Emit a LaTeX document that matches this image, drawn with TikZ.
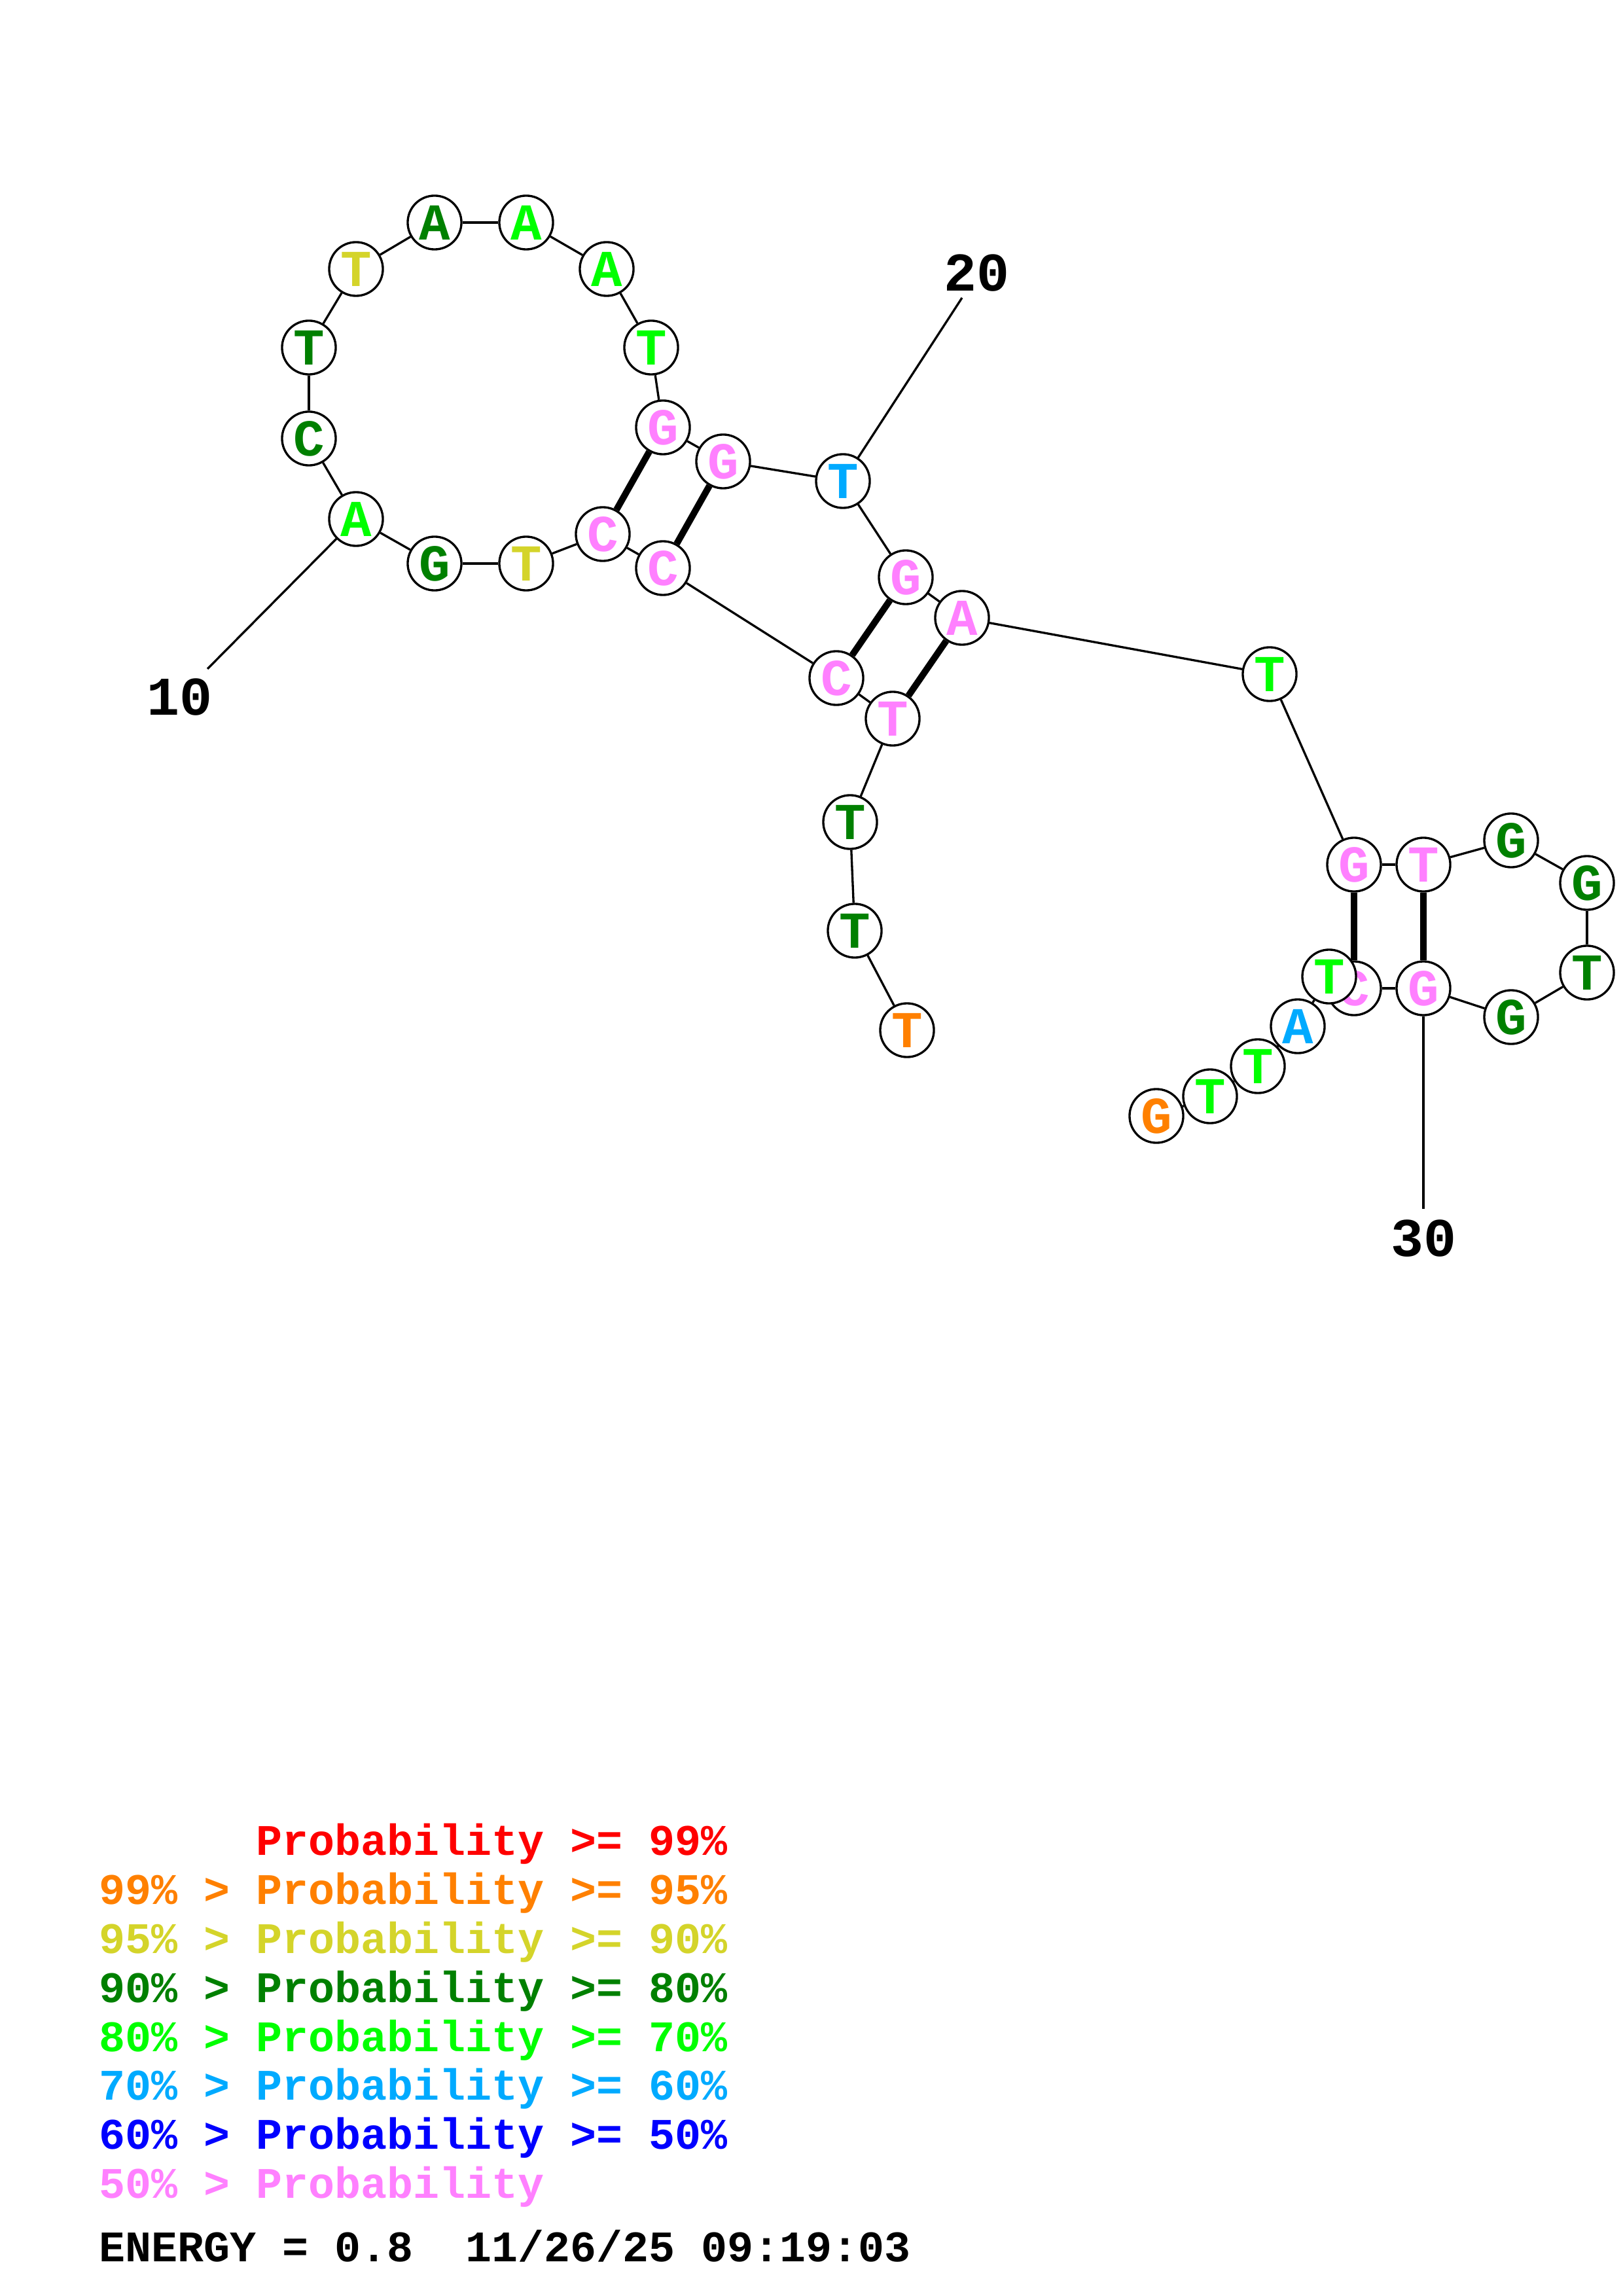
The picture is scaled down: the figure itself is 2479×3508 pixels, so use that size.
\documentclass[tikz,border=0pt]{standalone}
\usepackage{fontspec}
\newfontfamily\cour{Liberation Mono}
\pgfdeclarelayer{background}
\pgfsetlayers{background,main}
\definecolor{pRed}{RGB}{255,0,0}
\definecolor{pOrange}{RGB}{255,128,0}
\definecolor{pYellow}{RGB}{212,212,42}
\definecolor{pDkGreen}{RGB}{0,128,0}
\definecolor{pGreen}{RGB}{0,255,0}
\definecolor{pSky}{RGB}{0,170,255}
\definecolor{pBlue}{RGB}{0,0,255}
\definecolor{pPink}{RGB}{255,128,255}
\begin{document}
\begin{tikzpicture}[x=0.24pt,y=-0.24pt,
  nt/.style={circle,draw=black,fill=white,line width=0.8pt,minimum size=19.7pt,inner sep=0pt,
    font=\cour\bfseries\fontsize{19}{19}\selectfont},
  bb/.style={line width=0.8pt},
  pairline/.style={line width=2.4pt},
  lbl/.style={inner sep=0pt,font=\cour\bfseries\fontsize{20}{20}\selectfont},
  leg/.style={anchor=base west,inner sep=0pt,font=\cour\bfseries\fontsize{16}{16}\selectfont}]
\useasboundingbox (0,0) rectangle (2479,3508);
% nucleotides
\node[nt,text=pOrange]  (n1)  at (1386,1574) {T};
\node[nt,text=pDkGreen] (n2)  at (1306,1422) {T};
\node[nt,text=pDkGreen] (n3)  at (1299,1256) {T};
\node[nt,text=pPink]    (n4)  at (1364,1098) {T};
\node[nt,text=pPink]    (n5)  at (1278,1036) {C};
\node[nt,text=pPink]    (n6)  at (1013,868) {C};
\node[nt,text=pPink]    (n7)  at (921,816) {C};
\node[nt,text=pYellow]  (n8)  at (804,861) {T};
\node[nt,text=pDkGreen] (n9)  at (664,861) {G};
\node[nt,text=pGreen]   (n10) at (544,793) {A};
\node[nt,text=pDkGreen] (n11) at (472,670) {C};
\node[nt,text=pDkGreen] (n12) at (472,531) {T};
\node[nt,text=pYellow]  (n13) at (544,411) {T};
\node[nt,text=pDkGreen] (n14) at (664,340) {A};
\node[nt,text=pGreen]   (n15) at (804,340) {A};
\node[nt,text=pGreen]   (n16) at (927,411) {A};
\node[nt,text=pGreen]   (n17) at (995,531) {T};
\node[nt,text=pPink]    (n18) at (1013,653) {G};
\node[nt,text=pPink]    (n19) at (1105,705) {G};
\node[nt,text=pSky]     (n20) at (1288,735) {T};
\node[nt,text=pPink]    (n21) at (1384,882) {G};
\node[nt,text=pPink]    (n22) at (1470,944) {A};
\node[nt,text=pGreen]   (n23) at (1940,1030) {T};
\node[nt,text=pPink]    (n24) at (2069,1321) {G};
\node[nt,text=pPink]    (n25) at (2175,1321) {T};
\node[nt,text=pDkGreen] (n26) at (2309,1284) {G};
\node[nt,text=pDkGreen] (n27) at (2425,1349) {G};
\node[nt,text=pDkGreen] (n28) at (2425,1486) {T};
\node[nt,text=pDkGreen] (n29) at (2309,1554) {G};
\node[nt,text=pPink]    (n30) at (2175,1510) {G};
\node[nt,text=pPink]    (n31) at (2069,1510) {C};
\node[nt,text=pGreen]   (n32) at (2031,1492) {T};
\node[nt,text=pSky]     (n33) at (1983,1568) {A};
\node[nt,text=pGreen]   (n34) at (1922,1629) {T};
\node[nt,text=pGreen]   (n35) at (1849,1675) {T};
\node[nt,text=pOrange]  (n36) at (1767,1705) {G};
% position labels
\node[lbl] (l10) at (275,1065) {10};
\node[lbl] (l20) at (1492,417) {20};
\node[lbl] (l30) at (2175,1892) {30};
\coordinate (e10) at (317,1022);
\coordinate (e20) at (1470,455);
\coordinate (e30) at (2175,1847);
\begin{pgfonlayer}{background}
\foreach \a/\b in {1/2,2/3,3/4,4/5,5/6,6/7,7/8,8/9,9/10,10/11,11/12,12/13,13/14,14/15,15/16,16/17,17/18,18/19,19/20,20/21,21/22,22/23,23/24,24/25,25/26,26/27,27/28,28/29,29/30,30/31,31/32,32/33,33/34,34/35,35/36}
  \draw[bb] (n\a) -- (n\b);
\foreach \a/\b in {18/7,19/6,21/5,22/4,24/31,25/30}
  \draw[pairline] (n\a) -- (n\b);
\draw[bb] (n10) -- (e10);
\draw[bb] (n20) -- (e20);
\draw[bb] (n30) -- (e30);
\end{pgfonlayer}
% legend
\node[leg,text=pRed]     (g0) at (151,2834) {\phantom{99\% > }Probability >= 99\%};
\node[leg,text=pOrange]  (g1) at (151,2909) {99\% > Probability >= 95\%};
\node[leg,text=pYellow]  (g2) at (151,2984) {95\% > Probability >= 90\%};
\node[leg,text=pDkGreen] (g3) at (151,3059) {90\% > Probability >= 80\%};
\node[leg,text=pGreen]   (g4) at (151,3134) {80\% > Probability >= 70\%};
\node[leg,text=pSky]     (g5) at (151,3208) {70\% > Probability >= 60\%};
\node[leg,text=pBlue]    (g6) at (151,3283) {60\% > Probability >= 50\%};
\node[leg,text=pPink]    (g7) at (151,3358) {50\% > Probability};
\node[leg,text=black]    (g8) at (151,3455) {ENERGY = 0.8~~11/26/25 09:19:03};
\end{tikzpicture}
\end{document}
